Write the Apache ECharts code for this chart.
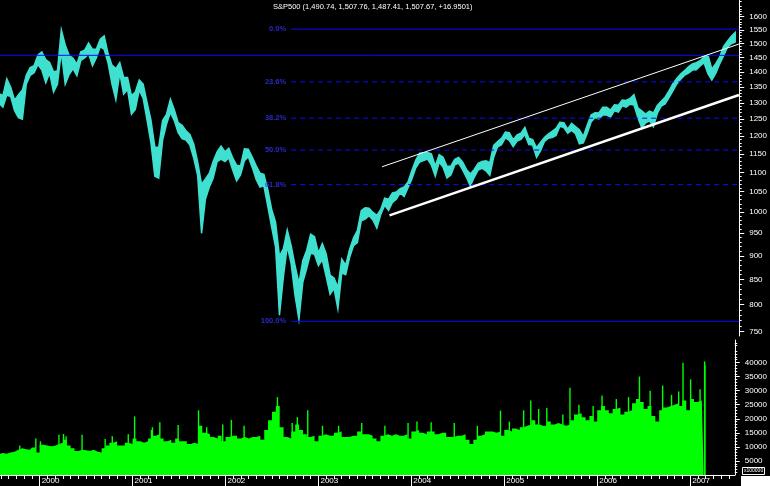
<!DOCTYPE html>
<html><head><meta charset="utf-8">
<script src="https://cdn.jsdelivr.net/npm/echarts@6/dist/echarts.min.js"></script>
<style>html,body{margin:0;padding:0;background:#000;}#c{width:770px;height:486px;}</style>
</head><body><div id="c"></div>
<script>
// ===== DATA =====
// Semi-monthly upper / lower edge of the S&P 500 price trace (two values per month: 1st half, 2nd half).
// 1999 starts with the 2nd half of July; 2007 ends with the 1st half of June.
const hi1999 = [1330,1323,1378,1350,1309,1326,1341,1390,1416,1422,1459];
const lo1999 = [1300,1287,1325,1320,1276,1255,1250,1360,1389,1398,1426];
const hi2000 = [1470,1443,1433,1401,1405,1550,1495,1458,1448,1427,1470,1476,1502,1479,1480,1516,1528,1464,1424,1412,1433,1382,1382,1323];
const lo2000 = [1407,1365,1397,1335,1360,1471,1360,1392,1412,1388,1440,1449,1463,1422,1450,1489,1479,1431,1361,1310,1397,1328,1343,1265];
const hi2001 = [1335,1374,1360,1302,1248,1169,1168,1246,1265,1312,1279,1240,1232,1216,1205,1177,1128,1069,1083,1098,1130,1156,1172,1156];
const lo2001 = [1280,1341,1315,1248,1182,1090,1085,1189,1235,1271,1246,1210,1193,1189,1175,1138,1092,950,1032,1062,1085,1129,1136,1129];
const hi2002 = [1166,1139,1119,1117,1164,1163,1141,1118,1098,1095,1056,1006,976,899,915,958,922,879,842,890,912,948,942,906];
const lo2002 = [1139,1106,1078,1093,1131,1142,1114,1082,1062,1065,1014,964,919,780,855,921,883,818,772,845,873,906,903,879];
const hi2003 = [927,904,859,853,834,893,880,914,939,956,1003,1010,1009,999,992,1006,1034,1031,1047,1049,1058,1062,1075,1105];
const lo2003 = [891,856,820,832,792,864,860,896,922,929,979,983,991,981,962,994,1016,1004,1023,1031,1047,1038,1060,1083];
const hi2004 = [1133,1152,1153,1154,1150,1117,1148,1141,1116,1117,1135,1140,1128,1108,1096,1108,1124,1129,1131,1126,1174,1185,1194,1212];
const lo2004 = [1112,1128,1132,1136,1120,1090,1127,1114,1085,1093,1120,1125,1107,1087,1064,1087,1106,1111,1104,1092,1141,1170,1176,1195];
const hi2005 = [1210,1190,1204,1209,1226,1194,1190,1167,1182,1196,1206,1214,1223,1241,1240,1221,1238,1228,1219,1199,1232,1263,1270,1269];
const lo2005 = [1188,1170,1186,1191,1205,1176,1175,1140,1158,1184,1194,1196,1202,1229,1225,1209,1217,1207,1178,1181,1208,1242,1255,1251];
const hi2006 = [1287,1287,1278,1294,1293,1309,1308,1314,1326,1285,1276,1266,1275,1269,1292,1305,1318,1338,1362,1379,1394,1405,1418,1428];
const lo2006 = [1263,1263,1257,1276,1272,1291,1287,1296,1294,1255,1225,1239,1245,1228,1268,1290,1297,1317,1338,1361,1376,1390,1397,1407];
const hi2007 = [1432,1439,1453,1459,1410,1429,1452,1489,1508,1526,1540];
const lo2007 = [1408,1421,1432,1395,1374,1396,1428,1456,1487,1499,1505];

// Semi-monthly volume level (x100000 shares), same layout; data ends with 2nd half of Feb 2007
const vol1999 = [7500,7800,7600,8000,8300,9000,9500,9200,9000,9800,8000];
const vol2000 = [10800,10500,10200,10400,11000,11500,12500,10500,9500,8500,9000,8800,8500,9000,8300,8000,9500,10500,11500,12000,10500,10500,11500,11000];
const vol2001 = [13000,12000,11500,12000,13000,14000,14500,13000,12000,12500,11500,13000,12000,12000,11000,11500,11000,17500,15000,14500,13500,13000,14000,12000];
const vol2002 = [13500,14000,14000,13000,13500,13000,13500,13500,14000,12500,16000,19500,22500,24500,17000,13500,13000,15500,18000,16000,14500,13500,14000,12000];
const vol2003 = [14000,14500,14000,14000,15000,15500,13500,13500,14000,14000,15500,14500,14500,14000,13000,12000,14000,14500,14000,14500,14000,14000,14500,13000];
const vol2004 = [15500,16000,15000,14500,15500,15500,14500,15000,15000,13500,13500,14000,14000,14500,12500,11000,12500,14000,14500,15500,15500,15000,15500,14000];
const vol2005 = [16000,15500,16500,16000,17000,17500,18000,19500,18000,17500,17500,19000,18000,18500,18000,17500,18000,19500,21500,22000,20500,19500,21000,19000];
const vol2006 = [23000,24500,23000,22000,23500,24000,21500,22500,23000,25500,27000,26000,23500,24500,21000,19000,23000,24000,24500,25000,25500,24500,26500,23000];
const vol2007 = [27000,26000,26500,28000];

// Single-day volume spikes
const spikeDates = ['1999-10-15','1999-12-17','2000-01-04','2000-03-17','2000-04-04','2000-04-14','2000-06-16','2000-09-15','2000-10-13','2000-12-15','2001-01-09','2001-03-16','2001-03-20','2001-04-18','2001-06-29','2001-09-17','2001-10-19','2001-12-21','2002-01-24','2002-03-15','2002-06-21','2002-07-24','2002-09-20','2002-10-10','2002-11-20','2003-01-17','2003-03-21','2003-06-20','2003-09-19','2003-12-19','2004-01-23','2004-03-19','2004-06-18','2004-09-17','2004-12-17','2005-01-21','2005-03-18','2005-04-15','2005-05-16','2005-06-17','2005-08-19','2005-09-16','2005-10-21','2005-12-16','2006-01-20','2006-03-17','2006-05-04','2006-06-16','2006-07-28','2006-09-15','2006-10-20','2006-11-17','2006-12-04','2007-01-03','2007-02-09','2007-02-27','2007-02-28'];
const spikeVals  = [10500,13000,12000,14300,14600,13800,14300,12800,13800,14500,20800,16000,17000,18800,17800,23000,17000,18000,19600,17500,19000,27700,18500,20600,23000,17500,17500,18500,17500,18500,19000,18800,18500,17500,22900,19000,23000,26500,23500,23800,21500,31000,25000,24500,28300,27000,27700,35000,30000,31800,28500,29700,39900,34000,30500,40400,39000];

// Fibonacci retracement (2000 high to 2002 low)
const fibHigh = 1552.87, fibLow = 768.63;
const fibPct = [0, 23.6, 38.2, 50, 61.8, 100];
const fibLabels = ['0.0%','23.6%','38.2%','50.0%','61.8%','100.0%'];
const fibStart = '2002-09-09';
const hLineValue = 1458;

// Trend channel
const upperTrendDates = ['2003-08-30','2007-06-24'];
const upperTrendVals = [1115, 1498];
const lowerTrendDates = ['2003-09-28','2007-06-24'];
const lowerTrendVals = [992, 1325];

// Axis ticks / labels
const yearTicks = [2000,2001,2002,2003,2004,2005,2006,2007];
const priceTicks = [750,800,850,900,950,1000,1050,1100,1150,1200,1250,1300,1350,1400,1450,1500,1550,1600];
const volTicks = [5000,10000,15000,20000,25000,30000,35000,40000];
const titleText = 'S&P500 (1,490.74, 1,507.76, 1,487.41, 1,507.67, +16.9501)';

// ===== BUILD =====
const xMin = 1999.5732, xMax = 2007.4802;
function toYear(s){const d=Date.parse(s+'T00:00:00Z');const y=new Date(d).getUTCFullYear();const a=Date.UTC(y,0,1),b=Date.UTC(y+1,0,1);return y+(d-a)/(b-a);}
const hiByYear = {1999:hi1999,2000:hi2000,2001:hi2001,2002:hi2002,2003:hi2003,2004:hi2004,2005:hi2005,2006:hi2006,2007:hi2007};
const loByYear = {1999:lo1999,2000:lo2000,2001:lo2001,2002:lo2002,2003:lo2003,2004:lo2004,2005:lo2005,2006:lo2006,2007:lo2007};
const volByYear = {1999:vol1999,2000:vol2000,2001:vol2001,2002:vol2002,2003:vol2003,2004:vol2004,2005:vol2005,2006:vol2006,2007:vol2007};
function pts(byYear){
  const out=[];
  for(let y=1999;y<=2007;y++){
    const arr=byYear[y]; const s0 = (y===1999)?13:0;
    arr.forEach((v,i)=>out.push([y+(s0+i+0.5)/24, v]));
  }
  return out;
}
const hiPts = pts(hiByYear), loPts = pts(loByYear), volPts = pts(volByYear);
const monthTicks=[]; for(let y=1999;y<=2007;y++){for(let m=1;m<12;m++){const v=y+m/12; if(v>xMin&&v<xMax) monthTicks.push(v);}}
const priceMinor=[]; for(let v=750;v<=1660;v+=10){ if(v%50!==0) priceMinor.push(v);}
const volMinor=[]; for(let v=1000;v<=47000;v+=1000){ if(v%5000!==0) volMinor.push(v);}

const FIB_BLUE='#0a0aff', FONT='Liberation Sans';
const series=[];
fibPct.forEach((p,i)=>{
  const lvl = fibHigh - p/100*(fibHigh-fibLow);
  series.push({type:'line',xAxisIndex:0,yAxisIndex:0,symbol:'none',silent:true,
    data:[[toYear(fibStart),lvl],[xMax,lvl]],
    lineStyle:{color:FIB_BLUE,width:1,type:(p===0||p===100)?'solid':[5,4]}});
});
series.push({type:'line',xAxisIndex:0,yAxisIndex:0,symbol:'none',silent:true,
  data:[[xMin,hLineValue],[xMax,hLineValue]],lineStyle:{color:FIB_BLUE,width:1}});
series.push({type:'scatter',xAxisIndex:0,yAxisIndex:0,symbolSize:0,silent:true,
  data:fibPct.map((p,i)=>({value:[toYear(fibStart),fibHigh-p/100*(fibHigh-fibLow)],name:fibLabels[i]})),
  label:{show:true,position:'left',distance:5,formatter:'{b}',color:'#3535ff',fontSize:7.5,fontWeight:'bold',fontFamily:FONT}});
series.push({type:'custom',xAxisIndex:0,yAxisIndex:0,clip:true,silent:true,
  data:[[2003,1000]],encode:{x:0,y:1},
  renderItem:function(params,api){
    const p=[]; hiPts.forEach(d=>p.push(api.coord(d)));
    for(let i=loPts.length-1;i>=0;i--) p.push(api.coord(loPts[i]));
    return {type:'polygon',shape:{points:p},style:{fill:'#40e0d0',stroke:'#40e0d0',lineWidth:1.5}};
  }});
series.push({type:'line',xAxisIndex:0,yAxisIndex:0,symbol:'none',silent:true,
  data:upperTrendDates.map((d,i)=>[toYear(d),upperTrendVals[i]]),lineStyle:{color:'#ffffff',width:1}});
series.push({type:'line',xAxisIndex:0,yAxisIndex:0,symbol:'none',silent:true,
  data:lowerTrendDates.map((d,i)=>[toYear(d),lowerTrendVals[i]]),lineStyle:{color:'#ffffff',width:2.5}});
series.push({type:'line',xAxisIndex:1,yAxisIndex:2,symbol:'none',silent:true,step:'middle',
  data:volPts,lineStyle:{width:0},areaStyle:{color:'#00ff00',opacity:1}});
series.push({type:'bar',xAxisIndex:1,yAxisIndex:2,silent:true,barWidth:1.4,
  data:spikeDates.map((d,i)=>[toYear(d),spikeVals[i]]),itemStyle:{color:'#00ff00'}});

const lblStyle={color:'#ffffff',fontSize:8,fontFamily:FONT};
const option={
  backgroundColor:'#000000',animation:false,
  grid:[{left:0,right:29,top:0,height:336},{left:0,right:29,top:340,bottom:11}],
  xAxis:[
    {type:'value',gridIndex:0,min:xMin,max:xMax,show:false},
    {type:'value',gridIndex:1,min:xMin,max:xMax,position:'bottom',
      axisLine:{show:true,onZero:false,lineStyle:{color:'#fff',width:1}},
      axisTick:{show:true,customValues:yearTicks,length:11,lineStyle:{color:'#fff'}},
      axisLabel:Object.assign({customValues:yearTicks,formatter:v=>String(Math.round(v)),align:'left',margin:2,padding:[0,0,0,2]},lblStyle),
      splitLine:{show:false}},
    {type:'value',gridIndex:1,min:xMin,max:xMax,position:'bottom',
      axisLine:{show:false,onZero:false},axisTick:{show:true,customValues:monthTicks,length:4,lineStyle:{color:'#fff'}},
      axisLabel:{show:false},splitLine:{show:false}}
  ],
  yAxis:[
    {type:'log',gridIndex:0,position:'right',min:741.95,max:1665.6,
      axisLine:{show:true,lineStyle:{color:'#fff'}},
      axisTick:{show:true,customValues:priceTicks,length:5,lineStyle:{color:'#fff'}},
      axisLabel:Object.assign({customValues:priceTicks,formatter:v=>String(Math.round(v)),margin:10},lblStyle),
      splitLine:{show:false}},
    {type:'log',gridIndex:0,position:'right',min:741.95,max:1665.6,
      axisLine:{show:false},axisTick:{show:true,customValues:priceMinor,length:2.5,lineStyle:{color:'#fff'}},
      axisLabel:{show:false},splitLine:{show:false}},
    {type:'value',gridIndex:1,position:'right',min:0,max:48000,
      axisLine:{show:true,lineStyle:{color:'#fff'}},
      axisTick:{show:true,customValues:volTicks,length:5,lineStyle:{color:'#fff'}},
      axisLabel:Object.assign({customValues:volTicks,formatter:v=>String(Math.round(v)),margin:10},lblStyle),
      splitLine:{show:false}},
    {type:'value',gridIndex:1,position:'right',min:0,max:48000,
      axisLine:{show:false},axisTick:{show:true,customValues:volMinor,length:2.5,lineStyle:{color:'#fff'}},
      axisLabel:{show:false},splitLine:{show:false}}
  ],
  graphic:[
    {type:'text',left:273,top:3,style:{text:titleText,fill:'#fff',font:'7.5px "Liberation Sans"'}},
    {type:'rect',left:741,top:476,shape:{width:29,height:10},style:{fill:'#ffffff'}},
    {type:'rect',left:742,top:467,shape:{width:22,height:7},style:{fill:'#000',stroke:'#fff',lineWidth:1}},
    {type:'text',left:744,top:468,style:{text:'x100000',fill:'#fff',font:'5px "Liberation Sans"'}}
  ],
  series:series
};
echarts.init(document.getElementById('c')).setOption(option);
</script></body></html>
